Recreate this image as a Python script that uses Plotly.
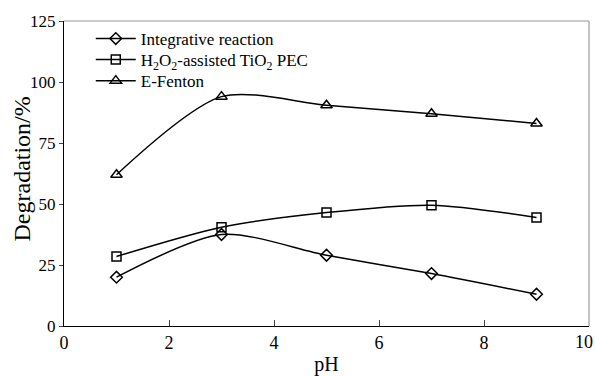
import plotly.graph_objects as go

ph = [1, 3, 5, 7, 9]
integrative = [20, 37.5, 29, 21.5, 13]
h2o2_tio2 = [28.5, 40.5, 46.5, 49.5, 44.5]
e_fenton = [62, 94, 90.5, 87, 83]

names = ["Integrative reaction", "H<sub>2</sub>O<sub>2</sub>-assisted TiO<sub>2</sub> PEC", "E-Fenton"]
series = [integrative, h2o2_tio2, e_fenton]
symbols = ["diamond-open", "square-open", "triangle-up-open"]
sizes = [9, 9, 10]
legend_ids = ["legend", "legend2", "legend3"]
legend_y = [0.941, 0.872, 0.803]

x_ticks = [0, 2, 4, 6, 8, 10]
y_ticks = [0, 25, 50, 75, 100, 125]
x_title = "pH"
y_title = "Degradation/%"

font = "Liberation Serif"

fig = go.Figure()
for name, vals, sym, sz, lid in zip(names, series, symbols, sizes, legend_ids):
    fig.add_trace(go.Scatter(
        x=ph, y=vals, name=name, mode="lines+markers", legend=lid,
        line=dict(color="black", width=1.5, shape="spline", smoothing=0.8),
        marker=dict(symbol=sym, size=sz, color="black", line=dict(width=1.5, color="black")),
    ))

leg_common = dict(x=0.051, xanchor="left", yanchor="middle",
                  bgcolor="rgba(0,0,0,0)", font=dict(size=17, family=font, color="black"),
                  itemwidth=40)

# last x tick label drawn as annotation so it is not clipped at the page edge
x_ticktext = [str(v) for v in x_ticks[:-1]] + [""]

fig.update_layout(
    width=595, height=376,
    margin=dict(l=64, r=6, t=21, b=50),
    paper_bgcolor="white", plot_bgcolor="white",
    font=dict(family=font, size=17, color="black"),
    showlegend=True,
    legend=dict(y=legend_y[0], **leg_common),
    legend2=dict(y=legend_y[1], **leg_common),
    legend3=dict(y=legend_y[2], **leg_common),
    xaxis=dict(range=[0, 10], tickvals=x_ticks, ticktext=x_ticktext, ticks="inside", ticklen=6,
               showgrid=False, zeroline=False, showline=True, linecolor="black", linewidth=1,
               mirror=False, automargin=False,
               title=dict(text=x_title, font=dict(size=20, family=font), standoff=12),
               tickfont=dict(size=18, family=font)),
    yaxis=dict(range=[0, 125], tickvals=y_ticks, ticks="outside", ticklen=4,
               showgrid=False, zeroline=False, showline=True, linecolor="black", linewidth=1,
               automargin=False,
               tickfont=dict(size=17, family=font)),
    annotations=[
        dict(text=str(x_ticks[-1]), x=x_ticks[-1], y=0, xref="x", yref="paper",
             xanchor="center", yanchor="top", xshift=-5, yshift=-4, showarrow=False,
             font=dict(size=18, family=font, color="black")),
        dict(text=y_title, x=0, y=0.5, xref="paper", yref="paper", textangle=-90,
             xanchor="center", yanchor="middle", xshift=-43, yshift=4, showarrow=False,
             font=dict(size=24, family=font, color="black")),
    ],
    shapes=[
        dict(type="line", xref="paper", yref="paper", x0=0, x1=1, y0=1, y1=1,
             line=dict(color="#999999", width=1.2)),
        dict(type="line", xref="paper", yref="paper", x0=1, x1=1, y0=0, y1=1,
             line=dict(color="#999999", width=1.2)),
    ],
)

fig.write_html("out.html")
